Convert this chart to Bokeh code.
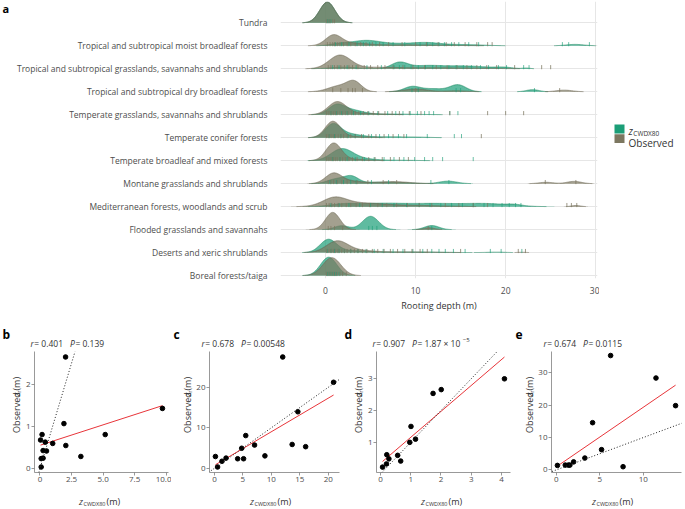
import numpy as np
from bokeh.plotting import figure
from bokeh.models import Range1d, FixedTicker, Label, Slope
from bokeh.layouts import row, column
from bokeh.embed import file_html
from bokeh.resources import INLINE

FONT = "Open Sans"
GREY = "#4d4d4d"
DARK = "#333333"
CWD_COL = "#1B9E77"
OBS_COL = "#7C7760"

# ---------------- data: panel a ----------------
biomes = [
    "Tundra",
    "Tropical and subtropical moist broadleaf forests",
    "Tropical and subtropical grasslands, savannahs and shrublands",
    "Tropical and subtropical dry broadleaf forests",
    "Temperate grasslands, savannahs and shrublands",
    "Temperate conifer forests",
    "Temperate broadleaf and mixed forests",
    "Montane grasslands and shrublands",
    "Mediterranean forests, woodlands and scrub",
    "Flooded grasslands and savannahs",
    "Deserts and xeric shrublands",
    "Boreal forests/taiga",
]
# density peaks read from the ridges: (centre m, height in rows, spread m)
obs_peaks = [
    [(0.2, 0.90, 0.85)],
    [(0.9, 0.45, 0.9), (3.2, 0.10, 1.5), (9.0, 0.04, 4.0)],
    [(1.6, 0.58, 1.2), (5.5, 0.06, 2.5), (13.0, 0.04, 4.0)],
    [(1.5, 0.25, 1.2), (3.2, 0.40, 0.8), (10.0, 0.12, 1.3), (14.5, 0.04, 1.2), (26.5, 0.07, 0.9)],
    [(1.3, 0.55, 1.0), (4.0, 0.06, 2.0)],
    [(0.8, 0.70, 0.85), (3.0, 0.05, 1.5)],
    [(0.9, 0.75, 0.85), (3.0, 0.06, 1.5)],
    [(0.9, 0.45, 0.9), (3.0, 0.10, 1.2), (7.5, 0.09, 1.8), (24.5, 0.06, 0.8), (27.6, 0.10, 0.8)],
    [(1.0, 0.35, 1.3), (4.0, 0.15, 2.5), (10.0, 0.05, 3.0), (27.8, 0.05, 0.5)],
    [(0.8, 0.75, 0.8), (11.5, 0.08, 0.6)],
    [(1.3, 0.50, 1.2), (4.0, 0.08, 1.5), (9.0, 0.03, 3.0), (21.8, 0.015, 0.5)],
    [(0.7, 0.78, 1.0)],
]
cwd_peaks = [
    [(0.2, 0.90, 0.85)],
    [(1.5, 0.08, 1.0), (4.4, 0.22, 1.6), (8.0, 0.08, 2.0), (11.3, 0.12, 1.6), (15.5, 0.05, 2.0), (27.7, 0.06, 1.0)],
    [(2.0, 0.07, 1.5), (8.2, 0.26, 0.9), (11.0, 0.12, 1.8), (15.5, 0.12, 2.5), (19.8, 0.05, 0.9), (22.3, 0.03, 0.4)],
    [(9.6, 0.22, 0.9), (12.0, 0.13, 1.2), (14.7, 0.30, 0.9), (23.0, 0.09, 0.7)],
    [(1.2, 0.40, 0.9), (3.0, 0.18, 1.2), (7.0, 0.03, 3.0)],
    [(0.8, 0.55, 0.85), (2.5, 0.15, 1.3), (6.0, 0.04, 2.5), (10.0, 0.02, 1.5)],
    [(1.8, 0.50, 1.2), (4.0, 0.08, 1.5), (8.0, 0.02, 2.0)],
    [(1.2, 0.20, 1.0), (2.9, 0.30, 0.8), (5.5, 0.05, 1.2), (8.0, 0.05, 1.5), (13.6, 0.11, 1.0)],
    [(2.0, 0.10, 1.5), (6.0, 0.13, 2.5), (12.0, 0.13, 3.0), (18.0, 0.12, 2.5), (21.0, 0.05, 0.8)],
    [(1.8, 0.17, 0.8), (5.0, 0.58, 0.9), (11.8, 0.18, 0.8)],
    [(0.3, 0.55, 0.9), (2.5, 0.08, 1.5), (8.0, 0.03, 4.0), (19.0, 0.02, 1.0)],
    [(0.35, 0.80, 0.9)],
]
obs_rug = [
    [0.1, 0.3, 0.5, 0.8, 1.0],
    [0.2, 0.5, 0.8, 1.0, 1.3, 1.6, 2.0, 2.4, 2.8, 3.3, 3.9, 4.5, 5.2, 6.0, 7.0, 8.5, 10.0, 11.2, 12.5, 13.4, 14.3, 15.5, 16.8, 18.0, 18.5],
    [0.3, 0.6, 1.0, 1.3, 1.7, 2.1, 2.6, 3.0, 3.6, 4.3, 5.0, 5.8, 6.6, 7.5, 8.6, 9.7, 11.0, 12.3, 13.5, 14.6, 15.7, 16.8, 17.9, 19.0, 21.0, 24.0, 25.0],
    [0.8, 1.7, 2.5, 3.0, 3.3, 4.1, 10.0, 26.0],
    [0.1, 0.3, 0.5, 0.7, 0.9, 1.1, 1.3, 1.6, 1.9, 2.2, 2.5, 2.9, 3.3, 3.7, 4.2, 4.7, 5.3, 5.9, 6.6, 7.4, 8.2, 9.3, 10.6, 13.8, 18.0, 20.0, 22.0],
    [0.1, 0.3, 0.5, 0.7, 0.9, 1.1, 1.4, 1.7, 2.0, 2.4, 2.8, 3.3, 4.0, 4.8, 5.6, 6.5, 7.5, 8.7, 17.3],
    [0.1, 0.3, 0.5, 0.7, 0.9, 1.1, 1.3, 1.6, 1.9, 2.2, 2.6, 3.0, 3.5, 4.1, 4.8, 5.5, 6.3, 7.2, 8.2, 9.2],
    [0.3, 0.6, 0.9, 1.3, 1.8, 2.4, 3.5, 4.7, 6.4, 7.9, 24.4, 27.8],
    [0.1, 0.4, 0.7, 1.0, 1.4, 1.8, 2.3, 2.8, 3.4, 4.1, 4.9, 5.8, 6.8, 7.9, 9.1, 10.4, 11.8, 13.3, 14.8, 16.4, 18.0, 26.8, 27.3, 27.9],
    [0.3, 0.6, 1.0, 1.9, 11.4],
    [0.1, 0.3, 0.5, 0.7, 0.9, 1.1, 1.3, 1.5, 1.8, 2.1, 2.4, 2.8, 3.2, 3.6, 4.1, 4.6, 5.2, 5.8, 6.5, 7.2, 8.0, 8.8, 9.6, 10.5, 11.3, 15.0, 21.4, 22.2],
    [0.1, 0.3, 0.5, 0.7, 0.9, 1.1, 1.3, 1.6, 1.9, 2.3],
]
cwd_rug = [
    [0.2, 0.4, 0.6],
    [1.1, 1.8, 2.6, 3.5, 4.2, 4.9, 5.6, 6.4, 7.5, 8.8, 10.5, 11.3, 11.9, 12.6, 13.2, 14.0, 14.8, 15.9, 17.0, 26.3, 27.0, 29.3],
    [0.8, 1.5, 2.4, 3.4, 4.6, 6.2, 7.6, 8.2, 8.8, 9.5, 10.3, 11.1, 11.9, 12.8, 13.7, 14.5, 15.3, 16.2, 17.2, 18.1, 19.2, 20.1, 22.0, 22.6],
    [9.6, 10.3, 14.5, 15.0, 23.2],
    [0.6, 1.2, 1.8, 2.4, 3.1, 3.9, 4.8, 5.8, 6.9, 7.8, 8.6, 9.4, 10.2, 11.0, 11.5, 12.0, 13.8, 14.7],
    [0.4, 1.0, 1.7, 2.5, 3.3, 4.2, 5.1, 6.0, 7.0, 8.1, 9.0, 11.3, 14.3, 15.1],
    [0.8, 1.6, 2.4, 3.3, 4.3, 5.4, 6.5, 7.6, 8.7, 9.9, 11.0, 11.9, 13.0, 16.4],
    [0.5, 1.2, 2.0, 2.8, 3.4, 5.1, 7.0, 11.7, 13.7],
    [0.6, 1.5, 2.6, 3.8, 5.0, 6.3, 7.6, 9.0, 10.4, 11.6, 12.8, 14.0, 15.2, 16.4, 17.6, 18.6, 19.6, 20.4, 21.1, 21.7],
    [4.8, 5.2, 5.7, 11.8],
    [0.2, 0.6, 1.0, 1.5, 2.1, 2.8, 3.6, 4.5, 5.4, 6.4, 7.5, 8.6, 9.7, 10.8, 11.8, 12.6, 13.3, 14.2, 15.5, 18.3, 19.5, 21.8],
    [0.2, 0.4, 0.6, 0.8, 1.0, 1.2, 1.5],
]
depth_ticks = [0, 10, 20, 30]

# ---------------- data: panels b-e ----------------
b_x = [0.05, 0.17, 0.10, 0.10, 0.25, 0.25, 0.42, 0.52, 1.01, 1.90, 2.03, 2.05, 3.24, 5.17, 9.70]
b_y = [0.68, 0.81, 0.04, 0.24, 0.25, 0.43, 0.63, 0.42, 0.60, 1.07, 2.65, 0.55, 0.29, 0.81, 1.43]
b_fit = (0.097, 0.555)
b_stats = ("0.401", "0.139")

c_x = [0.17, 0.55, 1.32, 2.04, 4.08, 4.79, 5.12, 5.50, 7.05, 8.87, 12.0, 13.66, 14.66, 16.03, 20.94]
c_y = [2.90, 0.31, 1.73, 2.51, 2.35, 4.94, 2.35, 8.08, 5.73, 3.06, 27.5, 5.88, 13.96, 5.33, 21.25]
c_fit = (0.83, 0.72)
c_stats = ("0.678", "0.00548")

d_x = [0.07, 0.20, 0.21, 0.28, 0.57, 0.67, 0.97, 1.01, 1.16, 1.74, 2.01, 4.10]
d_y = [0.22, 0.32, 0.61, 0.48, 0.59, 0.41, 1.00, 1.50, 1.10, 2.54, 2.66, 3.00]
d_fit = (0.816, 0.34)
d_stats = ("0.907", "1.87 \u00d7 10", "\u22125")

e_x = [0.14, 1.04, 1.39, 1.57, 2.00, 3.29, 4.18, 5.21, 6.25, 7.68, 11.46, 13.71]
e_y = [1.39, 1.49, 1.49, 1.49, 2.48, 3.67, 14.6, 6.26, 35.35, 0.99, 28.4, 19.86]
e_fit = (1.843, 0.93)
e_stats = ("0.674", "0.0115")

# ---------------- helpers ----------------
EM = {' ': 0.26, '.': 0.266, ',': 0.25, '=': 0.572, '\u00d7': 0.572, '\u2212': 0.572,
      '(': 0.296, ')': 0.296, 'r': 0.408, 'P': 0.603, 'O': 0.778, 'b': 0.613, 's': 0.479,
      'e': 0.561, 'v': 0.5, 'd': 0.613, 'm': 0.93, 'z': 0.45, 'C': 0.66, 'W': 0.98,
      'D': 0.76, 'X': 0.6}


def tw(s, size, style="normal"):
    return size * sum(EM.get(ch, 0.572) for ch in s) + 0.3


def width_of(parts):
    return sum(tw(t, s, st) for t, s, st, _ in parts)


def put_pieces(p, x0, y0, parts, angle=0.0, color=DARK):
    """parts: (text, size, style, rise_px); x0, y0 in pixels of a text figure (y down)."""
    pos = 0.0
    for text, size, style, rise in parts:
        if angle == 0:
            fx, fy = x0 + pos, y0 - rise
        else:
            fx, fy = x0 - rise, y0 - pos
        p.add_layout(Label(x=fx, y=fy, text=text, angle=angle, text_font=FONT,
                           text_font_size=f"{size}px", text_font_style=style,
                           text_color=color, text_align="left", text_baseline="alphabetic"))
        pos += tw(text, size, style)


def text_fig(w, h):
    f = figure(width=w, height=h, x_range=Range1d(0, w), y_range=Range1d(h, 0),
               x_axis_type=None, y_axis_type=None, output_backend="svg",
               toolbar_location=None, min_border=0)
    f.grid.visible = False
    f.outline_line_color = None
    return f


# ---------------- panel a ----------------
TOTAL_W = 684
A_W = 12
TOP_H = 314
TL, TR, TT, TB = 268, 2, 1, 29
TOP_W = TL + 317 + TR
LEG_W = TOTAL_W - A_W - TOP_W
tx0, tx1 = -5.0, 30.2
ty0, ty1 = 0.874, 12.927

afig = text_fig(A_W, TOP_H)
put_pieces(afig, 2, 8, [("a", 11, "bold", 0)], color="black")

top = figure(width=TOP_W, height=TOP_H, x_range=Range1d(tx0, tx1), y_range=Range1d(ty0, ty1),
             output_backend="svg", toolbar_location=None,
             min_border_left=TL, min_border_right=TR, min_border_top=TT, min_border_bottom=TB)
top.outline_line_color = None
nb = len(biomes)
row_ticks = list(range(1, nb + 1))
top.xgrid.ticker = FixedTicker(ticks=depth_ticks)
top.ygrid.ticker = FixedTicker(ticks=row_ticks)
top.xgrid.grid_line_color = "#e6e6e6"
top.ygrid.grid_line_color = "#e6e6e6"
top.xaxis.ticker = FixedTicker(ticks=depth_ticks)
top.yaxis.ticker = FixedTicker(ticks=row_ticks)
over = {}
for i, name in enumerate(biomes):
    over[nb - i] = name
    over[str(nb - i)] = name
top.yaxis.major_label_overrides = over
for ax in (top.xaxis[0], top.yaxis[0]):
    ax.axis_line_color = None
    ax.major_tick_line_color = None
    ax.minor_tick_line_color = None
    ax.major_label_text_font = FONT
    ax.major_label_text_color = GREY
top.yaxis.major_label_text_font_size = "8.5px"
top.yaxis.major_label_standoff = 7
top.xaxis.major_label_text_font_size = "8.5px"
top.xaxis.major_label_standoff = 2
top.xaxis.axis_label = "Rooting depth (m)"
top.xaxis.axis_label_text_font = FONT
top.xaxis.axis_label_text_font_size = "9px"
top.xaxis.axis_label_text_font_style = "normal"
top.xaxis.axis_label_text_color = DARK
top.xaxis.axis_label_standoff = 2

xs = np.linspace(-5, 30.2, 1409)


def dens(peaks):
    d = np.zeros_like(xs)
    for c, h, s in peaks:
        d += h * np.exp(-0.5 * ((xs - c) / s) ** 2)
    return d


for i, name in enumerate(biomes):
    base = nb - i
    for peaks, fill, line in ((cwd_peaks[i], CWD_COL, "#17885f"), (obs_peaks[i], OBS_COL, "#6a6550")):
        d = dens(peaks)
        top.varea(x=xs, y1=np.full_like(xs, base), y2=base + d, fill_color=fill, fill_alpha=0.7)
        yl = np.where(d > 0.004, base + d, np.nan)
        top.line(xs, yl, line_color=line, line_width=0.6, line_alpha=0.9)
    for rug, col, al in ((cwd_rug[i], CWD_COL, 0.65), (obs_rug[i], OBS_COL, 0.75)):
        r = np.array(rug, dtype=float)
        top.segment(x0=r, y0=np.full_like(r, base - 0.02), x1=r, y1=np.full_like(r, base + 0.16),
                    line_color=col, line_alpha=al, line_width=1)

# legend
leg = text_fig(LEG_W, TOP_H)
leg.quad(left=[15], right=[25], top=[139.5], bottom=[149.5], fill_color=CWD_COL, line_color=None)
leg.quad(left=[15], right=[25], top=[150.5], bottom=[160.5], fill_color=OBS_COL, line_color=None)
put_pieces(leg, 29, 147, [("z", 10, "italic", 0), ("CWDX80", 6.5, "normal", -2.5)])
put_pieces(leg, 29, 160, [("Observed", 10, "normal", 0)])

# ---------------- panels b-e ----------------
PANEL_W = TOTAL_W // 4      # 171
YT_W = 22
HEAD_H, XT_H = 34, 16
ML, MR, MT, MB = 11, 3, 3, 20
FW, FH = PANEL_W - YT_W - ML - MR, 121
MAIN_W, MAIN_H = PANEL_W - YT_W, MT + FH + MB


def panel(letter, xv, yv, fit, xr, yr, xt, yt, xover, stats):
    p = figure(width=MAIN_W, height=MAIN_H, x_range=Range1d(*xr), y_range=Range1d(*yr),
               output_backend="svg", toolbar_location=None,
               min_border_left=ML, min_border_right=MR, min_border_top=MT, min_border_bottom=MB)
    p.outline_line_color = None
    p.grid.visible = False
    p.xaxis.ticker = FixedTicker(ticks=xt)
    p.yaxis.ticker = FixedTicker(ticks=yt)
    if xover:
        p.xaxis.major_label_overrides = xover
    for ax in (p.xaxis[0], p.yaxis[0]):
        ax.axis_line_color = "#7f7f7f"
        ax.axis_line_width = 0.8
        ax.major_tick_line_color = "#7f7f7f"
        ax.major_tick_line_width = 0.8
        ax.major_tick_in = 0
        ax.major_tick_out = 3
        ax.minor_tick_line_color = None
        ax.major_label_text_font = FONT
        ax.major_label_text_font_size = "8px"
        ax.major_label_text_color = GREY
        ax.major_label_standoff = 1

    p.add_layout(Slope(gradient=1, y_intercept=0, line_color="#222222", line_dash="1 2",
                       line_width=1))
    slope, icpt = fit
    lx = np.array([min(xv), max(xv)])
    p.line(lx, slope * lx + icpt, line_color="#E8353A", line_width=1)
    p.scatter(xv, yv, size=4.6, fill_color="black", line_color="black")

    head = text_fig(PANEL_W, HEAD_H)
    put_pieces(head, 2, 20, [(letter, 12, "bold", 0)], color="black")
    parts = [("r", 8.5, "italic", 0), (" = " + stats[0] + "  ", 8.5, "normal", 0),
             ("P", 8.5, "italic", 0), (" = " + stats[1], 8.5, "normal", 0)]
    if len(stats) > 2:
        parts.append((stats[2], 6, "normal", 4))
    put_pieces(head, YT_W + ML - 3, 29, parts)

    ytf = text_fig(YT_W, MAIN_H)
    yparts = [("Observed ", 9, "normal", 0), ("z", 9, "italic", 0), ("r", 6, "normal", -2.2),
              (" (m)", 9, "normal", 0)]
    put_pieces(ytf, 16, MT + FH / 2 + width_of(yparts) / 2, yparts, angle=np.pi / 2)

    xtf = text_fig(PANEL_W, XT_H)
    xparts = [("z", 9, "italic", 0), ("CWDX80", 5.5, "normal", -2.2), (" (m)", 9, "normal", 0)]
    put_pieces(xtf, YT_W + ML + FW / 2 - width_of(xparts) / 2, 9, xparts)

    return column(head, row(ytf, p), xtf)


pb = panel("b", b_x, b_y, b_fit, (-0.43, 10.18), (-0.09, 2.78), [0, 2.5, 5, 7.5, 10], [0, 1, 2],
           {0: "0", 2.5: "2.5", 5: "5.0", 7.5: "7.5", 10: "10.0", "5": "5.0", "10": "10.0"}, b_stats)
pc = panel("c", c_x, c_y, c_fit, (-0.87, 21.98), (-1.05, 28.86), [0, 5, 10, 15, 20], [0, 10, 20],
           None, c_stats)
pd = panel("d", d_x, d_y, d_fit, (-0.13, 4.3), (0.05, 3.86), [0, 1, 2, 3, 4], [1, 2, 3],
           None, d_stats)
pe = panel("e", e_x, e_y, e_fit, (-0.54, 14.39), (-0.8, 36.6), [0, 5, 10], [0, 10, 20, 30],
           None, e_stats)

layout = column(row(afig, top, leg), row(pb, pc, pd, pe))
open("out.html", "w").write(file_html(layout, INLINE, "Rooting depth"))
